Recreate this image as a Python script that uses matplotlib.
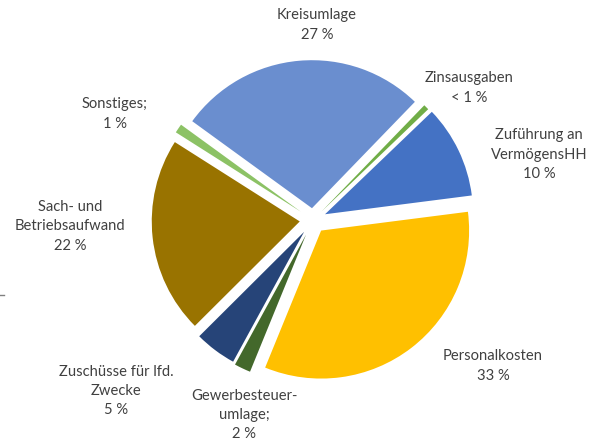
import matplotlib.pyplot as plt

# data, clockwise from Kreisumlage
names = ["Kreisumlage", "Zinsausgaben", "Zuführung an VermögensHH", "Personalkosten",
         "Gewerbesteuerumlage", "Zuschüsse für lfd. Zwecke", "Sach- und Betriebsaufwand", "Sonstiges"]
shares = [27.4, 0.6, 10.2, 33.4, 1.8, 4.6, 21.6, 1.0]
labels = ["Kreisumlage\n27 %", "Zinsausgaben\n< 1 %", "Zuführung an\nVermögensHH\n10 %",
          "Personalkosten\n33 %", "Gewerbesteuer-\numlage;\n2 %", "Zuschüsse für lfd.\nZwecke\n5 %",
          "Sach- und\nBetriebsaufwand\n22 %", "Sonstiges;\n1 %"]
colors = ["#6A8ECF", "#70AD47", "#4472C4", "#FFC000", "#43682B", "#264478", "#997300", "#8CC265"]
explode = [0.08, 0.08, 0.09, 0.09, 0.11, 0.1, 0.09, 0.1]

# label centers in pixels (x, y from top)
label_pos = [(317, 25), (469, 88), (539, 155), (493, 366), (244, 415), (116, 391), (70, 226), (115, 114)]

W, H = 596, 441
R = 148.0        # pie radius in px
cx, cy = 313, 220

fig = plt.figure(figsize=(W / 100, H / 100), dpi=100)
ax = fig.add_axes([0, 0, 1, 1])
ax.pie(shares, colors=colors, explode=explode, startangle=144, counterclock=False,
       wedgeprops=dict(linewidth=0))
ax.set_xlim(-cx / R, (W - cx) / R)
ax.set_ylim(-(H - cy) / R, cy / R)
ax.set_aspect('auto')
ax.axis('off')

for lab, (x, y) in zip(labels, label_pos):
    fig.text(x / W, 1 - y / H, lab, ha='center', va='center', fontsize=10.6,
             family='Lato', color='#404040', linespacing=1.5)

# small stray tick at left edge
fig.add_artist(plt.Line2D([0, 4 / W], [1 - 295 / H, 1 - 295 / H], color='#808080', lw=1))

fig.savefig("out.png", dpi=100)
